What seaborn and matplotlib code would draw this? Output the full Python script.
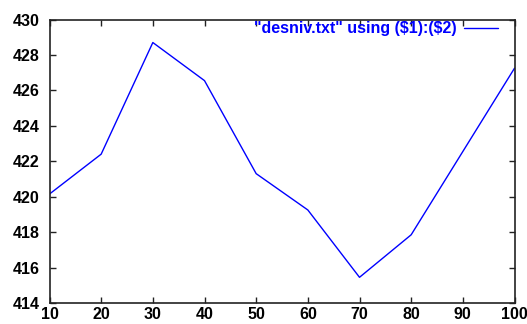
import matplotlib
matplotlib.use("Agg")
import matplotlib.pyplot as plt
import seaborn as sns
import pandas as pd

# desniv.txt columns: position ($1) and level ($2)
positions = [10, 20, 30, 40, 50, 60, 70, 80, 90, 100]
levels = [420.15, 422.4, 428.7, 426.55, 421.3, 419.25, 415.45, 417.85, 422.55, 427.25]
x_ticks = [10, 20, 30, 40, 50, 60, 70, 80, 90, 100]
y_ticks = [414, 416, 418, 420, 422, 424, 426, 428, 430]
series_label = r'"desniv.txt" using (\$1):(\$2)'

sns.set_style("ticks")
plt.rcParams["font.family"] = ["Liberation Sans", "DejaVu Sans"]

df = pd.DataFrame({"x": positions, "y": levels})

W, H = 527, 324
fig = plt.figure(figsize=(W / 100, H / 100), dpi=100)
left, right, top, bottom = 49.5, 514.5, 19.5, 303.0
ax = fig.add_axes([left / W, 1 - bottom / H, (right - left) / W, (bottom - top) / H])

sns.lineplot(data=df, x="x", y="y", ax=ax, color="#0000ff", linewidth=1.0,
             label=series_label)

ax.set_xlim(10, 100)
ax.set_ylim(414, 430)
ax.set_xticks(x_ticks)
ax.set_yticks(y_ticks)
ax.set_xlabel("")
ax.set_ylabel("")

for s in ax.spines.values():
    s.set_visible(True)
    s.set_color("#222222")
    s.set_linewidth(1.2)

ax.tick_params(direction="in", length=4, width=1, color="#222222",
               top=True, right=True, labelsize=11.5)
ax.tick_params(axis="x", pad=3)
ax.tick_params(axis="y", pad=7)
for lab in ax.get_xticklabels() + ax.get_yticklabels():
    lab.set_fontweight("bold")
    lab.set_color("black")

leg = ax.legend(loc="upper right", bbox_to_anchor=(0.995, 1.045), frameon=False,
                markerfirst=False, handlelength=2.1, handletextpad=0.45,
                prop={"weight": "bold", "size": 11.5})
for t in leg.get_texts():
    t.set_color("#0000ff")

fig.savefig("out.png", dpi=100)
